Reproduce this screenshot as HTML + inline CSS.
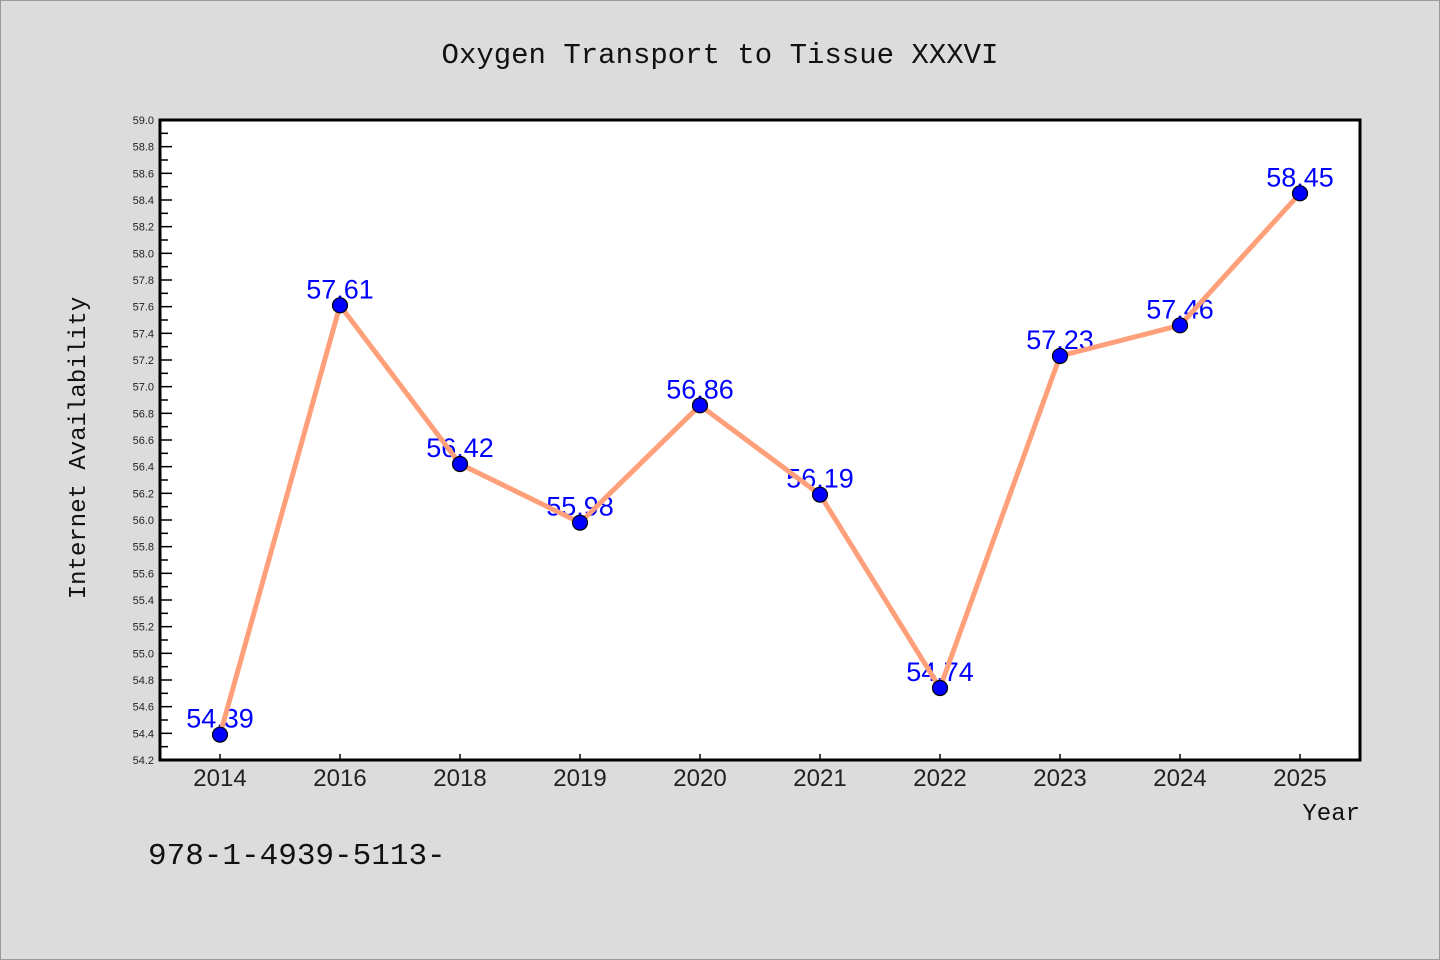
<!DOCTYPE html>
<html><head><meta charset="utf-8"><style>
html,body{margin:0;padding:0;background:#dcdcdc;}
svg{display:block;font-family:"Liberation Mono","DejaVu Sans Mono",monospace;}
</style></head><body>
<svg id="chart" width="1440" height="960" viewBox="0 0 1440 960" xmlns="http://www.w3.org/2000/svg">
<rect x="0.5" y="0.5" width="1439" height="959" fill="#dcdcdc" stroke="#999"/>
<text x="720" y="63" text-anchor="middle" font-size="29" fill="#111">Oxygen Transport to Tissue XXXVI</text>
<rect x="160" y="120" width="1200" height="640" fill="#fff"/>
<g id="yticks"></g><g id="xticks"></g><g id="labels"></g><g id="line"></g><g id="points"></g>
<rect x="160" y="120" width="1200" height="640" fill="none" stroke="#000" stroke-width="3"/>
<text transform="translate(85,448) rotate(-90)" text-anchor="middle" font-size="24" fill="#111">Internet Availability</text>
<text x="1360" y="820" text-anchor="end" font-size="24" fill="#111">Year</text>
<text x="148" y="864" font-size="31" fill="#111">978-1-4939-5113-</text>
</svg>
<script>
const categories=["2014","2016","2018","2019","2020","2021","2022","2023","2024","2025"];
const values=[54.39,57.61,56.42,55.98,56.86,56.19,54.74,57.23,57.46,58.45];
const yTickLabels=["54.2","54.4","54.6","54.8","55.0","55.2","55.4","55.6","55.8","56.0","56.2","56.4","56.6","56.8","57.0","57.2","57.4","57.6","57.8","58.0","58.2","58.4","58.6","58.8","59.0"];
const yMin=54.2,yMax=59.0,L=160,R=1360,T=120,B=760;
const NS="http://www.w3.org/2000/svg";
const yS=v=>B-(v-yMin)/(yMax-yMin)*(B-T);
const xS=i=>L+(i+0.5)*(R-L)/categories.length;
function mk(tag,attrs,parent){const e=document.createElementNS(NS,tag);for(const k in attrs)e.setAttribute(k,attrs[k]);document.getElementById(parent).appendChild(e);return e;}
yTickLabels.forEach((t,i)=>{
  const y=yS(parseFloat(t));
  const tk=mk('line',{x1:L,x2:L+12,y1:y,y2:y,stroke:'#000','stroke-width':1.5},'yticks');
  
  
  if(i<yTickLabels.length-1){const ym=yS(parseFloat(t)+0.1);
    const mt=mk('line',{x1:L,x2:L+8,y1:ym,y2:ym,stroke:'#000','stroke-width':1.5},'yticks');
    
    }
  const lb=mk('text',{x:L-6,y:y+4,'text-anchor':'end','font-size':11,fill:'#222','font-family':'Liberation Sans, sans-serif'},'yticks');
  lb.textContent=t;
  
  
});
categories.forEach((c,i)=>{
  const x=xS(i);
  const tk=mk('line',{x1:x,x2:x,y1:B,y2:B-6,stroke:'#000','stroke-width':1.5},'xticks');
  
  
  const lb=mk('text',{x:x,y:B+26,'text-anchor':'middle','font-size':24,fill:'#222','font-family':'Liberation Sans, sans-serif'},'xticks');
  lb.textContent=c;
  
  
});
values.forEach((v,i)=>{
  const lb=mk('text',{x:xS(i),y:yS(v)-7,'text-anchor':'middle','font-size':27,fill:'#0000ff','font-family':'Liberation Sans, sans-serif'},'labels');
  lb.textContent=v.toFixed(2);
  
  
});
const pl=mk('polyline',{points:values.map((v,i)=>xS(i)+','+yS(v)).join(' '),fill:'none',stroke:'#ffa07a','stroke-width':5,'stroke-linejoin':'round'},'line');


values.forEach((v,i)=>{
  const c=mk('circle',{cx:xS(i),cy:yS(v),r:7.5,fill:'#0000ff',stroke:'#000','stroke-width':1.2},'points');
  
  
});
</script>
</body></html>
